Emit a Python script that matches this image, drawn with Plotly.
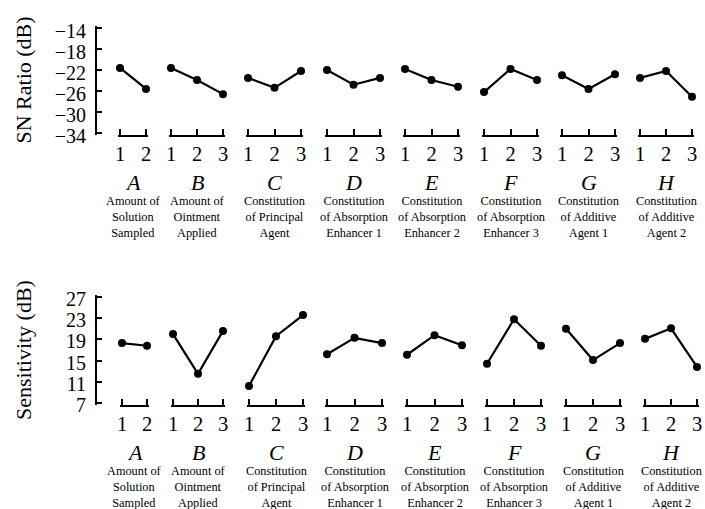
import plotly.graph_objects as go

W, H = 705, 509

factors = ["A", "B", "C", "D", "E", "F", "G", "H"]
descriptions = [
    "Amount of<br>Solution<br>Sampled",
    "Amount of<br>Ointment<br>Applied",
    "Constitution<br>of Principal<br>Agent",
    "Constitution<br>of Absorption<br>Enhancer 1",
    "Constitution<br>of Absorption<br>Enhancer 2",
    "Constitution<br>of Absorption<br>Enhancer 3",
    "Constitution<br>of Additive<br>Agent 1",
    "Constitution<br>of Additive<br>Agent 2",
]
n_levels = [2, 3, 3, 3, 3, 3, 3, 3]

sn_ratio = [
    [-21.6, -25.6],
    [-21.6, -23.9, -26.6],
    [-23.5, -25.4, -22.2],
    [-22.0, -24.8, -23.5],
    [-21.8, -23.9, -25.2],
    [-26.2, -21.8, -23.9],
    [-23.0, -25.6, -22.8],
    [-23.5, -22.2, -27.1],
]
sensitivity = [
    [18.3, 17.8],
    [20.0, 12.5, 20.6],
    [10.2, 19.6, 23.6],
    [16.2, 19.3, 18.3],
    [16.1, 19.8, 17.9],
    [14.4, 22.8, 17.8],
    [21.0, 15.1, 18.3],
    [19.1, 21.1, 13.8],
]

sn_ticks = [-34, -30, -26, -22, -18, -14]
sens_ticks = [7, 11, 15, 19, 23, 27]

# layout geometry (pixels): positions of first/last level and y-axis ends
top_spans = [(120, 146), (171, 223), (248, 301), (327, 380), (405, 458), (484, 537), (562, 615), (640, 692)]
bot_spans = [(122, 147), (173, 223), (249, 303), (327, 382), (407, 462), (487, 541), (566, 620), (645, 697)]
top_y_px = (28, 133)
bot_y_px = (297, 403)
yaxis_x_px = 96
EDGE_PX = 1.6  # tiny overhang so plotly keeps the inside ticks at the ends

SERIF = "Liberation Serif, Times New Roman, serif"

fig = go.Figure()
layout = dict(
    template="none",
    width=W, height=H,
    margin=dict(l=0, r=0, t=0, b=0, pad=0),
    paper_bgcolor="white", plot_bgcolor="rgba(0,0,0,0)",
    showlegend=False,
    font=dict(family=SERIF, color="black"),
)

for key, px, rng, tv, shift in [("yaxis", top_y_px, [-34, -14], sn_ticks, 3),
                                ("yaxis2", bot_y_px, [7, 27], sens_ticks, 2)]:
    upp = (rng[1] - rng[0]) / (px[1] - px[0])
    pad = EDGE_PX * upp
    layout[key] = dict(
        domain=[1 - (px[1] + EDGE_PX) / H, 1 - (px[0] - EDGE_PX) / H],
        range=[rng[0] - pad, rng[1] + pad], tickvals=tv,
        anchor="free", position=yaxis_x_px / W, automargin=False,
        showline=True, linecolor="black", linewidth=2,
        ticks="inside", ticklen=5, tickwidth=1.5, tickcolor="black",
        ticklabelshift=shift, ticklabelstandoff=5,
        showgrid=False, zeroline=False, tickfont=dict(size=20, family=SERIF),
    )

annotations = []

for row, (data, spans, yname, ypx) in enumerate([
    (sn_ratio, top_spans, "y", top_y_px),
    (sensitivity, bot_spans, "y2", bot_y_px),
]):
    for i, f in enumerate(factors):
        idx = row * 8 + i + 1
        xname = "x" if idx == 1 else f"x{idx}"
        axkey = "xaxis" if idx == 1 else f"xaxis{idx}"
        lv = list(range(1, n_levels[i] + 1))
        fig.add_trace(go.Scatter(
            x=lv, y=data[i], xaxis=xname, yaxis=yname,
            mode="lines+markers",
            line=dict(color="black", width=2.2),
            marker=dict(color="black", size=8),
            cliponaxis=False, hoverinfo="skip",
        ))
        x0, x1 = spans[i]
        upp = (n_levels[i] - 1) / (x1 - x0)
        pad = EDGE_PX * upp
        layout[axkey] = dict(
            domain=[(x0 - EDGE_PX) / W, (x1 + EDGE_PX) / W],
            range=[1 - pad, n_levels[i] + pad],
            anchor=yname, tickvals=lv, ticktext=[str(v) for v in lv],
            automargin=False,
            showline=True, linecolor="black", linewidth=2,
            ticks="inside", ticklen=6, tickwidth=1.5, tickcolor="black",
            showgrid=False, zeroline=False,
            tickfont=dict(size=20.5, family=SERIF),
        )
        base = ypx[1]
        annotations.append(dict(
            xref=f"{xname} domain", yref="paper", x=0.5, y=1 - (base + 49) / H,
            text=f"<i>{f}</i>", showarrow=False, yanchor="middle", xanchor="center",
            font=dict(size=22, family=SERIF),
        ))
        annotations.append(dict(
            xref=f"{xname} domain", yref="paper", x=0.5, y=1 - (base + 59) / H,
            text=descriptions[i], showarrow=False, yanchor="top", xanchor="center",
            font=dict(size=12.3, family=SERIF),
        ))

annotations.append(dict(
    xref="paper", yref="paper", x=23 / W, y=1 - (top_y_px[0] + top_y_px[1]) / 2 / H,
    text="SN Ratio (dB)", textangle=-90, showarrow=False,
    xanchor="center", yanchor="middle", font=dict(size=22, family=SERIF),
))
annotations.append(dict(
    xref="paper", yref="paper", x=23 / W, y=1 - (bot_y_px[0] + bot_y_px[1]) / 2 / H,
    text="Sensitivity (dB)", textangle=-90, showarrow=False,
    xanchor="center", yanchor="middle", font=dict(size=22, family=SERIF),
))

layout["annotations"] = annotations
fig.update_layout(**layout)
fig.write_html("out.html", config={"displayModeBar": False},
               post_script="document.body.style.margin='0';")
